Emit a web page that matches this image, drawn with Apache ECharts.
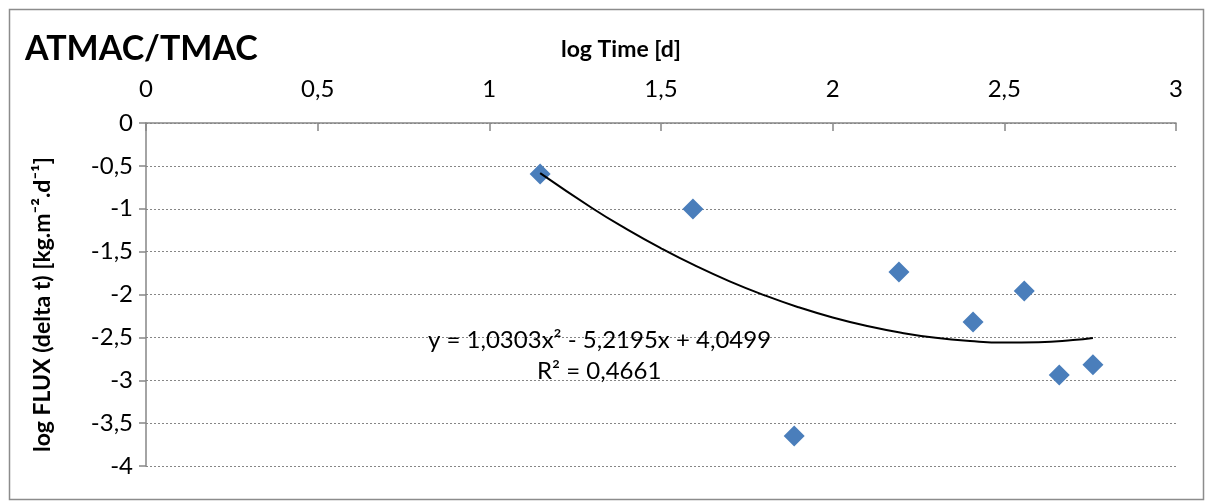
<!DOCTYPE html>
<html>
<head>
<meta charset="utf-8">
<script src="https://cdn.jsdelivr.net/npm/echarts@6/dist/echarts.min.js"></script>
<style>
  html, body { margin: 0; padding: 0; background: #fff; }
  #main { width: 1208px; height: 504px; }
</style>
</head>
<body>
<div id="main"></div>
<script>
// measured points (log time, log flux)
var logTime = [1.148, 1.593, 1.888, 2.193, 2.409, 2.558, 2.660, 2.758];
var logFlux = [-0.595, -1.003, -3.650, -1.738, -2.320, -1.960, -2.940, -2.820];

// polynomial trendline
var trendX = [1.148, 1.3, 1.4, 1.5, 1.6, 1.7, 1.8, 1.9, 2.0, 2.1, 2.2, 2.3, 2.4, 2.5, 2.6, 2.7, 2.758];
var trendY = [-0.585, -0.994, -1.238, -1.461, -1.664, -1.846, -2.007, -2.148, -2.268, -2.367, -2.446, -2.505, -2.542, -2.560, -2.556, -2.532, -2.508];

var eqText = 'y = 1,0303x\u00b2 - 5,2195x + 4,0499';
var r2Text = 'R\u00b2 = 0,4661';

var fontFam = 'Lato, "Open Sans", sans-serif';
var axisGray = '#868686';

function comma(v) {
    return String(v).replace('.', ',');
}

var points = [];
for (var i = 0; i < logTime.length; i++) {
    points.push([logTime[i], logFlux[i]]);
}
var trend = [];
for (var j = 0; j < trendX.length; j++) {
    trend.push([trendX[j], trendY[j]]);
}

var myChart = echarts.init(document.getElementById('main'));

var option = {
    backgroundColor: '#fff',
    animation: false,
    textStyle: { fontFamily: fontFam },
    title: {
        text: 'ATMAC/TMAC',
        left: 20,
        top: 27,
        textStyle: { fontSize: 34, fontWeight: 'bold', color: '#000', fontFamily: fontFam }
    },
    grid: { left: 146, right: 32, top: 123, bottom: 38 },
    xAxis: {
        type: 'value',
        position: 'top',
        min: 0,
        max: 3,
        interval: 0.5,
        name: 'log Time [d]',
        nameLocation: 'middle',
        nameGap: 62,
        nameTextStyle: { fontSize: 23, fontWeight: 'bold', color: '#000', fontFamily: fontFam, padding: [0, 80, 0, 0] },
        axisLine: { show: true, onZero: false, lineStyle: { color: axisGray, width: 1.5 } },
        axisTick: { show: true, inside: true, length: 8, lineStyle: { color: axisGray, width: 1.5 } },
        axisLabel: {
            fontSize: 24, color: '#000', margin: 22, fontFamily: fontFam,
            formatter: function (v) { return comma(v); }
        },
        splitLine: { show: false }
    },
    yAxis: {
        type: 'value',
        min: -4,
        max: 0,
        interval: 0.5,
        name: 'log FLUX (delta t) [kg.m\u207b\u00b2.d\u207b\u00b9]',
        nameLocation: 'middle',
        nameGap: 92,
        nameRotate: 90,
        nameTextStyle: { fontSize: 23, fontWeight: 'bold', color: '#000', fontFamily: fontFam, padding: [0, 20, 0, 0] },
        axisLine: { show: true, onZero: false, lineStyle: { color: axisGray, width: 1.5 } },
        axisTick: { show: true, length: 7, lineStyle: { color: axisGray, width: 1.5 } },
        axisLabel: {
            fontSize: 24, color: '#000', margin: 13, fontFamily: fontFam,
            formatter: function (v) { return comma(v); }
        },
        splitLine: { show: true, lineStyle: { color: axisGray, type: [2, 2], width: 1 } }
    },
    graphic: [
        {
            type: 'rect',
            left: 7, top: 7,
            shape: { width: 1194, height: 490 },
            style: { fill: 'none', stroke: '#8c8c8c', lineWidth: 1.5 },
            silent: true
        },
        {
            type: 'text',
            left: 428, top: 328,
            style: { text: eqText, font: '24px ' + fontFam, fill: '#000' },
            z: 10
        },
        {
            type: 'text',
            left: 537, top: 359,
            style: { text: r2Text, font: '24px ' + fontFam, fill: '#000' },
            z: 10
        }
    ],
    series: [
        {
            name: 'trend',
            type: 'line',
            data: trend,
            smooth: true,
            showSymbol: false,
            lineStyle: { color: '#000', width: 2 },
            z: 3
        },
        {
            name: 'data',
            type: 'scatter',
            data: points,
            symbol: 'diamond',
            symbolSize: 21,
            itemStyle: { color: '#4A7EBB', opacity: 1 },
            z: 2
        }
    ]
};

myChart.setOption(option);
</script>
</body>
</html>
